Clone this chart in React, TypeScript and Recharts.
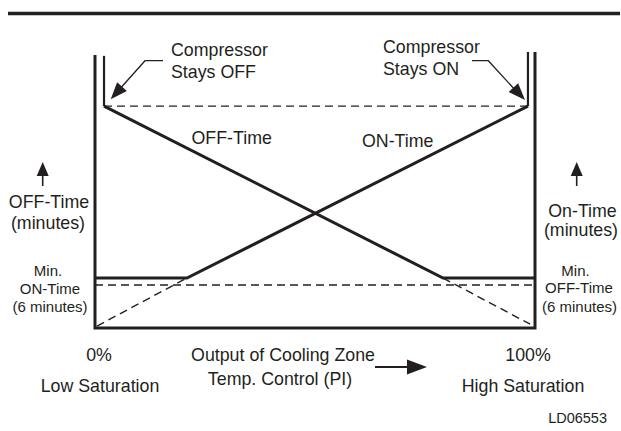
import { LineChart, Line, XAxis, YAxis, ReferenceLine } from 'recharts';

const INK = '#231f20';
const FONT = '"Liberation Sans", Arial, Helvetica, sans-serif';

// x = output of cooling zone temp. control (%), y = time (relative units)
const frameX = [0, 0, 100, 100];
const frameY = [98.9, 0, 0, 100];

const onTimeX = [0, 20.9, 98.4];
const onTimeY = [18.1, 18.1, 80.4];

const offTimeX = [2.05, 79.1, 100];
const offTimeY = [80.4, 18.1, 18.1];

// dashed extensions of the two ramps below the minimum
const onExtX = [0.45, 20.9];
const onExtY = [0.7, 18.1];
const offExtX = [79.1, 98.9];
const offExtY = [18.1, 1.4];

const stayOffX = 2.05;
const stayOnX = 98.4;
const maxLevel = 80.4;
const minLevel = 15.6;

const toPts = (xs: number[], ys: number[]) => xs.map((x, i) => ({ x, y: ys[i] }));

// filled arrow head, tip at (x2,y2)
function head(x1: number, y1: number, x2: number, y2: number, len: number, half: number) {
  const dx = x2 - x1;
  const dy = y2 - y1;
  const d = Math.hypot(dx, dy);
  const ux = dx / d;
  const uy = dy / d;
  const bx = x2 - ux * len;
  const by = y2 - uy * len;
  return `${x2},${y2} ${bx - uy * half},${by + ux * half} ${bx + uy * half},${by - ux * half}`;
}

function Overlay() {
  const t = { fontFamily: FONT, fill: INK };
  return (
    <svg width={621} height={431} style={{ position: 'absolute', left: 0, top: 0, pointerEvents: 'none' }}>
      <line x1={8} y1={13.5} x2={620} y2={13.5} stroke={INK} strokeWidth={3.5} />

      {/* Compressor Stays OFF */}
      <text {...t} fontSize={17.8} x={171} y={50} dominantBaseline="central">Compressor</text>
      <text {...t} fontSize={17.8} x={171} y={71.5} dominantBaseline="central">Stays OFF</text>
      <polyline points="163,60.7 145,60.7 118,91" fill="none" stroke={INK} strokeWidth={1.3} />
      <polygon points={head(145, 60.7, 110.7, 99.3, 17, 6.5)} fill={INK} />

      {/* Compressor Stays ON */}
      <text {...t} fontSize={17.8} x={383} y={46.5} dominantBaseline="central">Compressor</text>
      <text {...t} fontSize={17.8} x={383} y={68.5} dominantBaseline="central">Stays ON</text>
      <polyline points="472,60.7 488.3,60.7 517,92" fill="none" stroke={INK} strokeWidth={1.3} />
      <polygon points={head(488.3, 60.7, 525, 100, 17, 6.5)} fill={INK} />

      <text {...t} fontSize={17.8} x={191.5} y={138} dominantBaseline="central">OFF-Time</text>
      <text {...t} fontSize={17.8} x={362} y={141} dominantBaseline="central">ON-Time</text>

      {/* left axis title */}
      <line x1={42.7} y1={186} x2={42.7} y2={174} stroke={INK} strokeWidth={1.6} />
      <polygon points={head(42.7, 186, 42.7, 162, 14, 6)} fill={INK} />
      <text {...t} fontSize={17.8} x={49} y={202} textAnchor="middle" dominantBaseline="central">OFF-Time</text>
      <text {...t} fontSize={17.8} x={48} y={223} textAnchor="middle" dominantBaseline="central">(minutes)</text>
      <text {...t} fontSize={15} x={48} y={270} textAnchor="middle" dominantBaseline="central">Min.</text>
      <text {...t} fontSize={15} x={50} y={288} textAnchor="middle" dominantBaseline="central">ON-Time</text>
      <text {...t} fontSize={15} x={50} y={306} textAnchor="middle" dominantBaseline="central">(6 minutes)</text>

      {/* right axis title */}
      <line x1={576.7} y1={186} x2={576.7} y2={174} stroke={INK} strokeWidth={1.6} />
      <polygon points={head(576.7, 186, 576.7, 162, 14, 6)} fill={INK} />
      <text {...t} fontSize={17.8} x={582.5} y={211} textAnchor="middle" dominantBaseline="central">On-Time</text>
      <text {...t} fontSize={17.8} x={581} y={230} textAnchor="middle" dominantBaseline="central">(minutes)</text>
      <text {...t} fontSize={15} x={575.5} y={270} textAnchor="middle" dominantBaseline="central">Min.</text>
      <text {...t} fontSize={15} x={579} y={287} textAnchor="middle" dominantBaseline="central">OFF-Time</text>
      <text {...t} fontSize={15} x={579.5} y={306} textAnchor="middle" dominantBaseline="central">(6 minutes)</text>

      {/* x axis labels */}
      <text {...t} fontSize={17.8} x={99} y={355} textAnchor="middle" dominantBaseline="central">0%</text>
      <text {...t} fontSize={17.8} x={100} y={386} textAnchor="middle" dominantBaseline="central">Low Saturation</text>
      <text {...t} fontSize={17.8} x={283} y={355} textAnchor="middle" dominantBaseline="central">Output of Cooling Zone</text>
      <text {...t} fontSize={17.8} x={280} y={379} textAnchor="middle" dominantBaseline="central">Temp. Control (PI)</text>
      <line x1={375} y1={367} x2={410} y2={367} stroke={INK} strokeWidth={1.8} />
      <polygon points={head(375, 367, 427, 367, 20, 7.5)} fill={INK} />
      <text {...t} fontSize={17.8} x={528} y={355} textAnchor="middle" dominantBaseline="central">100%</text>
      <text {...t} fontSize={17.8} x={523} y={386} textAnchor="middle" dominantBaseline="central">High Saturation</text>

      <text {...t} fontSize={14.5} x={607} y={418} textAnchor="end" dominantBaseline="central">LD06553</text>
    </svg>
  );
}

export default function App() {
  const dash = '8 5';
  return (
    <div style={{ position: 'absolute', left: 0, top: 0, width: 621, height: 431, background: '#fff' }}>
      <LineChart width={621} height={431} margin={{ top: 52, right: 86, bottom: 103, left: 95 }}>
        <XAxis type="number" dataKey="x" domain={[0, 100]} hide />
        <YAxis type="number" dataKey="y" domain={[0, 100]} hide />

        <ReferenceLine segment={[{ x: 0, y: minLevel }, { x: 100, y: minLevel }]} stroke={INK} strokeWidth={1.4} strokeDasharray={dash} />
        <ReferenceLine segment={[{ x: stayOffX, y: maxLevel }, { x: stayOnX, y: maxLevel }]} stroke={INK} strokeWidth={1.4} strokeDasharray={dash} />
        <ReferenceLine segment={[{ x: stayOffX, y: maxLevel }, { x: stayOffX, y: 98.6 }]} stroke={INK} strokeWidth={2.2} />
        <ReferenceLine segment={[{ x: stayOnX, y: maxLevel }, { x: stayOnX, y: 100 }]} stroke={INK} strokeWidth={2.2} />

        <Line data={toPts(onExtX, onExtY)} dataKey="y" type="linear" stroke={INK} strokeWidth={1.4} strokeDasharray={dash} dot={false} activeDot={false} isAnimationActive={false} />
        <Line data={toPts(offExtX, offExtY)} dataKey="y" type="linear" stroke={INK} strokeWidth={1.4} strokeDasharray={dash} dot={false} activeDot={false} isAnimationActive={false} />
        <Line data={toPts(onTimeX, onTimeY)} dataKey="y" type="linear" stroke={INK} strokeWidth={3} dot={false} activeDot={false} isAnimationActive={false} />
        <Line data={toPts(offTimeX, offTimeY)} dataKey="y" type="linear" stroke={INK} strokeWidth={3} dot={false} activeDot={false} isAnimationActive={false} />
        <Line data={toPts(frameX, frameY)} dataKey="y" type="linear" stroke={INK} strokeWidth={3} strokeLinejoin="miter" dot={false} activeDot={false} isAnimationActive={false} />
      </LineChart>
      <Overlay />
    </div>
  );
}
